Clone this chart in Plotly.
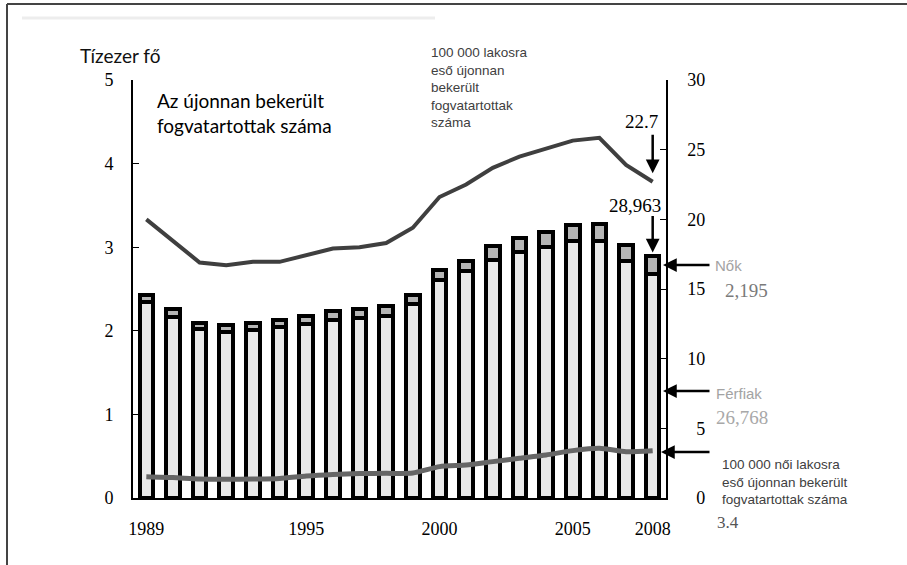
import plotly.graph_objects as go

years = list(range(1989, 2009))
# tens of thousands of newly admitted inmates
men = [2.35, 2.16, 2.02, 1.99, 2.01, 2.04, 2.08, 2.13, 2.15, 2.18,
       2.32, 2.61, 2.71, 2.85, 2.94, 3.00, 3.08, 3.07, 2.83, 2.6768]
women = [0.08, 0.10, 0.07, 0.08, 0.08, 0.09, 0.10, 0.11, 0.11, 0.12,
         0.11, 0.12, 0.13, 0.16, 0.17, 0.18, 0.19, 0.21, 0.20, 0.2195]
# per 100 000 population
rate_total = [20.0, 18.45, 16.9, 16.7, 16.95, 16.95, 17.4, 17.9, 18.0, 18.3,
              19.4, 21.6, 22.5, 23.7, 24.5, 25.1, 25.65, 25.85, 23.9, 22.7]
# per 100 000 female population
rate_female = [1.53, 1.47, 1.36, 1.34, 1.36, 1.40, 1.58, 1.69, 1.76, 1.77,
               1.79, 2.25, 2.37, 2.61, 2.85, 3.09, 3.40, 3.57, 3.32, 3.4]

x_ticks = [1989, 1995, 2000, 2005, 2008]
left_ticks = [0, 1, 2, 3, 4, 5]
right_ticks = [0, 5, 10, 15, 20, 25, 30]

total_2008 = men[-1] + women[-1]

SERIF = "Liberation Serif, Times New Roman, serif"
SANS = "Lato, Calibri, sans-serif"
ARIAL = "Liberation Sans, Arial, sans-serif"

L, R, T, B = 133, 666, 80, 498
W, H = 907, 565


def px(x):
    return (x - L) / (R - L)


def py(y):
    return (B - y) / (B - T)


fig = go.Figure()
fig.add_trace(go.Bar(x=years, y=men, width=0.51, name="Férfiak",
                     marker=dict(color="#e9e9e9", line=dict(color="black", width=4)),
                     showlegend=False))
fig.add_trace(go.Bar(x=years, y=women, width=0.51, name="Nők",
                     marker=dict(color="#b5b5b5", line=dict(color="black", width=4)),
                     showlegend=False))
fig.add_trace(go.Scatter(x=years, y=rate_total, yaxis="y2", mode="lines",
                         line=dict(color="#3f3f3f", width=4), showlegend=False))
fig.add_trace(go.Scatter(x=years, y=rate_female, yaxis="y2", mode="lines",
                         line=dict(color="#666666", width=5, shape="spline", smoothing=0.6),
                         showlegend=False))

right_text = [("\u2007" + str(v)) if v < 10 else str(v) for v in right_ticks]

fig.update_layout(
    width=W, height=H,
    margin=dict(l=L, r=W - R, t=T, b=H - B),
    paper_bgcolor="white", plot_bgcolor="white",
    barmode="stack", bargap=0,
    xaxis=dict(range=[1988.5, 2008.5], tickvals=x_ticks, ticktext=[str(v) for v in x_ticks],
               showline=True, linecolor="black", linewidth=1.5, ticks="",
               showgrid=False, zeroline=False, ticklabelstandoff=14,
               tickfont=dict(family=SERIF, size=18, color="black")),
    yaxis=dict(range=[0, 5], tickvals=left_ticks, showline=True, linecolor="black",
               linewidth=2, ticks="inside", ticklen=6, tickcolor="black",
               showgrid=False, zeroline=False, ticklabelstandoff=14,
               tickfont=dict(family=SERIF, size=18, color="black")),
    yaxis2=dict(range=[0, 30], tickvals=right_ticks, ticktext=right_text,
                overlaying="y", side="right", showline=True, linecolor="black",
                linewidth=1.5, ticks="inside", ticklen=6, tickcolor="black",
                showgrid=False, zeroline=False, ticklabelstandoff=16,
                tickfont=dict(family=SERIF, size=18, color="black")),
)

ann = []


def text(x, y, s, size, family, color="black", xanchor="left", yanchor="middle", align="left"):
    ann.append(dict(x=px(x), y=py(y), xref="paper", yref="paper", text=s, showarrow=False,
                    xanchor=xanchor, yanchor=yanchor, align=align,
                    font=dict(size=size, family=family, color=color)))


text(78, 55, "Tízezer fő", 19, SANS, color="#111111")
text(155, 87, "Az újonnan bekerült<br>fogvatartottak száma", 19, SANS, yanchor="top")
text(429, 43, "100 000 lakosra<br>eső újonnan<br>bekerült<br>fogvatartottak<br>száma", 13.5, ARIAL,
     color="#404040", yanchor="top")
text(660, 122, "22.7", 19, SERIF, xanchor="right")
text(663, 205, f"{round(total_2008 * 10000):,}", 19, SERIF, xanchor="right")
text(713, 265, "Nők", 15, ARIAL, color="#a3a3a3")
text(723, 290, f"{round(women[-1] * 10000):,}", 19, SERIF, color="#7a7a7a")
text(714, 393, "Férfiak", 15, ARIAL, color="#a3a3a3")
text(714, 417, f"{round(men[-1] * 10000):,}", 19, SERIF, color="#a8a8a8")
text(720, 455, "100 000 női lakosra<br>eső újonnan bekerült<br>fogvatartottak száma", 13.5, ARIAL,
     color="#404040", yanchor="top")
text(715, 522, f"{rate_female[-1]}", 17, SERIF, color="#555555")

arrow_style = dict(showarrow=True, arrowhead=2, arrowsize=1.1, arrowwidth=2.5,
                   arrowcolor="black", text="", axref="pixel", ayref="pixel")
# arrows pointing to 2008 values
ann.append(dict(x=2008, y=rate_total[-1] + 0.6, xref="x", yref="y2", ax=0, ay=-40, **arrow_style))
ann.append(dict(x=2008, y=total_2008 + 0.04, xref="x", yref="y", ax=0, ay=-38, **arrow_style))
# side arrows
ann.append(dict(x=px(663), y=py(265), xref="paper", yref="paper", ax=48, ay=0, **arrow_style))
ann.append(dict(x=px(663), y=py(391), xref="paper", yref="paper", ax=48, ay=0, **arrow_style))
ann.append(dict(x=px(661), y=py(452), xref="paper", yref="paper", ax=50, ay=0, **arrow_style))

fig.update_layout(annotations=ann)

fig.update_layout(shapes=[
    dict(type="line", xref="paper", yref="paper", x0=px(7), x1=px(910), y0=py(4), y1=py(4),
         line=dict(color="#444444", width=2)),
    dict(type="line", xref="paper", yref="paper", x0=px(7), x1=px(7), y0=py(4), y1=py(570),
         line=dict(color="#444444", width=2)),
    dict(type="line", xref="paper", yref="paper", x0=px(22), x1=px(435), y0=py(18), y1=py(18),
         line=dict(color="#ededed", width=3)),
])

fig.write_html("out.html", config={"displayModeBar": False},
               post_script="document.body.style.margin='0px';document.body.style.overflow='hidden';")
